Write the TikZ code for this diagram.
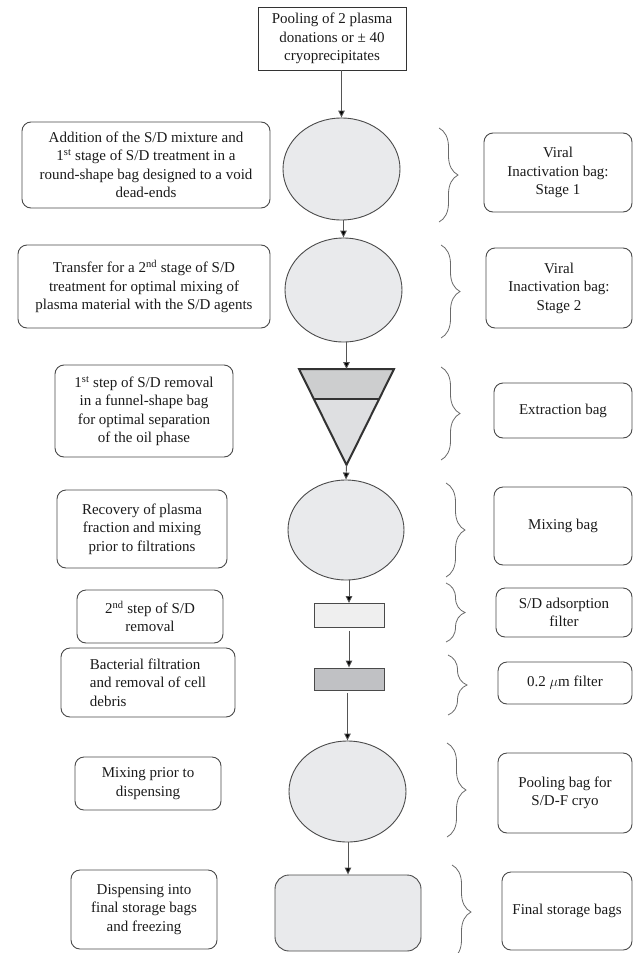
\documentclass[tikz,border=0pt]{standalone}
\usepackage{fontspec}
\setmainfont{Liberation Serif}
\usetikzlibrary{shapes.geometric,arrows.meta,decorations.pathreplacing}
\definecolor{edgec}{HTML}{4A4A4A}
\definecolor{bagfill}{HTML}{E9EAEC}
\definecolor{arrowc}{HTML}{555555}
\definecolor{txtc}{HTML}{1A1A1A}
\definecolor{funtop}{HTML}{CDCECF}
\definecolor{funbot}{HTML}{DEDFE1}
\definecolor{funedge}{HTML}{333333}
\definecolor{filtA}{HTML}{EFEFEF}
\definecolor{filtB}{HTML}{C0C1C4}
\definecolor{bracec}{HTML}{6A6A6A}
\newcommand{\txtfont}{\fontsize{15}{18.5}\selectfont}
\begin{document}
\begin{tikzpicture}[x=1pt,y=-1pt,
  every node/.style={text=txtc, font=\txtfont, inner sep=0pt},
  topbox/.style={draw=funedge, line width=0.9pt, align=center},
  lbox/.style={draw=edgec, line width=0.9pt, rounded corners=9pt, align=center},
  rbox/.style={draw=edgec, line width=0.9pt, rounded corners=9pt, align=center},
  bag/.style={ellipse, draw=edgec, line width=0.9pt, fill=bagfill},
  filter/.style={rectangle, draw=edgec, line width=0.9pt},
  flow/.style={draw=arrowc, line width=0.9pt, -{Triangle[length=7pt,width=6.5pt,fill=black]}},
  curly/.style={draw=bracec, line width=0.8pt, decorate, decoration={brace, amplitude=19pt}}
]
\useasboundingbox (0,0) rectangle (633,953);
\clip (0,0) rectangle (633,953);

% central column
\node[topbox, minimum width=148pt, minimum height=63pt] (tb) at (332,38.5)
  {Pooling of 2 plasma\\donations or ± 40\\cryoprecipitates};
\node[bag, minimum width=117pt, minimum height=102pt] (c1) at (341.5,169) {};
\node[bag, minimum width=117pt, minimum height=104pt] (c2) at (343.5,290) {};

\fill[funtop] (299,369) -- (394,369) -- (379.2,399) -- (313.8,399) -- cycle;
\fill[funbot] (313.8,399) -- (379.2,399) -- (346.5,465) -- cycle;
\draw[funedge, line width=2pt, line join=miter] (299,369) -- (394,369) -- (346.5,465) -- cycle;
\draw[funedge, line width=2pt] (313.8,399) -- (379.2,399);
\coordinate (ftop) at (346.5,369);
\coordinate (fapex) at (346.5,465);

\node[bag, minimum width=116pt, minimum height=100pt] (c3) at (346,530) {};
\node[filter, fill=filtA, minimum width=70pt, minimum height=24pt] (r1) at (349,615.5) {};
\node[filter, fill=filtB, minimum width=70pt, minimum height=22pt] (r2) at (349,679) {};
\node[bag, minimum width=117pt, minimum height=101pt] (c4) at (347.5,791.5) {};
\node[draw=edgec, line width=0.9pt, fill=bagfill, rounded corners=14pt,
      minimum width=146pt, minimum height=76pt] (rr) at (348,913) {};

% arrows
\draw[flow] (c1.north |- tb.south) -- (c1.north);
\draw[flow] (c2.north |- c1.south) -- (c2.north);
\draw[flow] (ftop |- c2.south) -- (ftop);
\draw[flow] (fapex) -- (c3.north);
\draw[flow] (r1.north |- c3.south) -- (r1.north);
\draw[flow, shorten <=3pt] (r1.south) -- (r2.north);
\draw[flow, shorten <=3pt] (c4.north |- r2.south) -- (c4.north);
\draw[flow] (rr.north |- c4.south) -- (rr.north);

% left descriptions
\node[lbox, minimum width=248pt, minimum height=86pt] (l1) at (146,165)
  {Addition of the S/D mixture and\\1\textsuperscript{st} stage of S/D treatment in a\\round-shape bag designed to a void\\dead-ends};
\node[lbox, minimum width=252pt, minimum height=83pt] (l2) at (144,286.5)
  {Transfer for a 2\textsuperscript{nd} stage of S/D\\treatment for optimal mixing of\\plasma material with the S/D agents};
\node[lbox, minimum width=178pt, minimum height=92pt] (l3) at (144,411)
  {1\textsuperscript{st} step of S/D removal\\in a funnel-shape bag\\for optimal separation\\of the oil phase};
\node[lbox, minimum width=170pt, minimum height=78pt] (l4) at (142,529)
  {Recovery of plasma\\fraction and mixing\\prior to filtrations};
\node[lbox, minimum width=146pt, minimum height=53pt] (l5) at (150,616.5)
  {2\textsuperscript{nd} step of S/D\\removal};
\node[lbox, align=left, minimum width=174pt, minimum height=69pt] (l6) at (148,682.5)
  {Bacterial filtration\\and removal of cell\\debris};
\node[lbox, minimum width=146pt, minimum height=53pt] (l7) at (148,783.5)
  {Mixing prior to\\dispensing};
\node[lbox, minimum width=146pt, minimum height=79pt] (l8) at (144,909.5)
  {Dispensing into\\final storage bags\\and freezing};

% right labels
\node[rbox, minimum width=148pt, minimum height=79pt] (q1) at (558,172.5)
  {Viral\\Inactivation bag:\\Stage 1};
\node[rbox, minimum width=146pt, minimum height=80pt] (q2) at (559,288)
  {Viral\\Inactivation bag:\\Stage 2};
\node[rbox, minimum width=138pt, minimum height=55pt] (q3) at (563,410.5)
  {Extraction bag};
\node[rbox, minimum width=138pt, minimum height=78pt] (q4) at (563,526)
  {Mixing bag};
\node[rbox, minimum width=136pt, minimum height=49pt] (q5) at (564,612.5)
  {S/D adsorption\\filter};
\node[rbox, minimum width=134pt, minimum height=42pt] (q6) at (565,683)
  {0.2 $\mu$m filter};
\node[rbox, minimum width=134pt, minimum height=80pt] (q7) at (565,793)
  {Pooling bag for\\S/D-F cryo};
\node[rbox, minimum width=130pt, minimum height=78pt] (q8) at (567,911)
  {Final storage bags};

% braces
\draw[curly] (439,128) -- (439,222);
\draw[curly] (441,245) -- (441,338);
\draw[curly] (441,367) -- (441,460);
\draw[curly] (446,483) -- (446,577);
\draw[curly] (446,583) -- (446,642);
\draw[curly] (448,655) -- (448,715);
\draw[curly] (447,743) -- (447,837);
\draw[curly] (452,865) -- (452,959);
\end{tikzpicture}
\end{document}
